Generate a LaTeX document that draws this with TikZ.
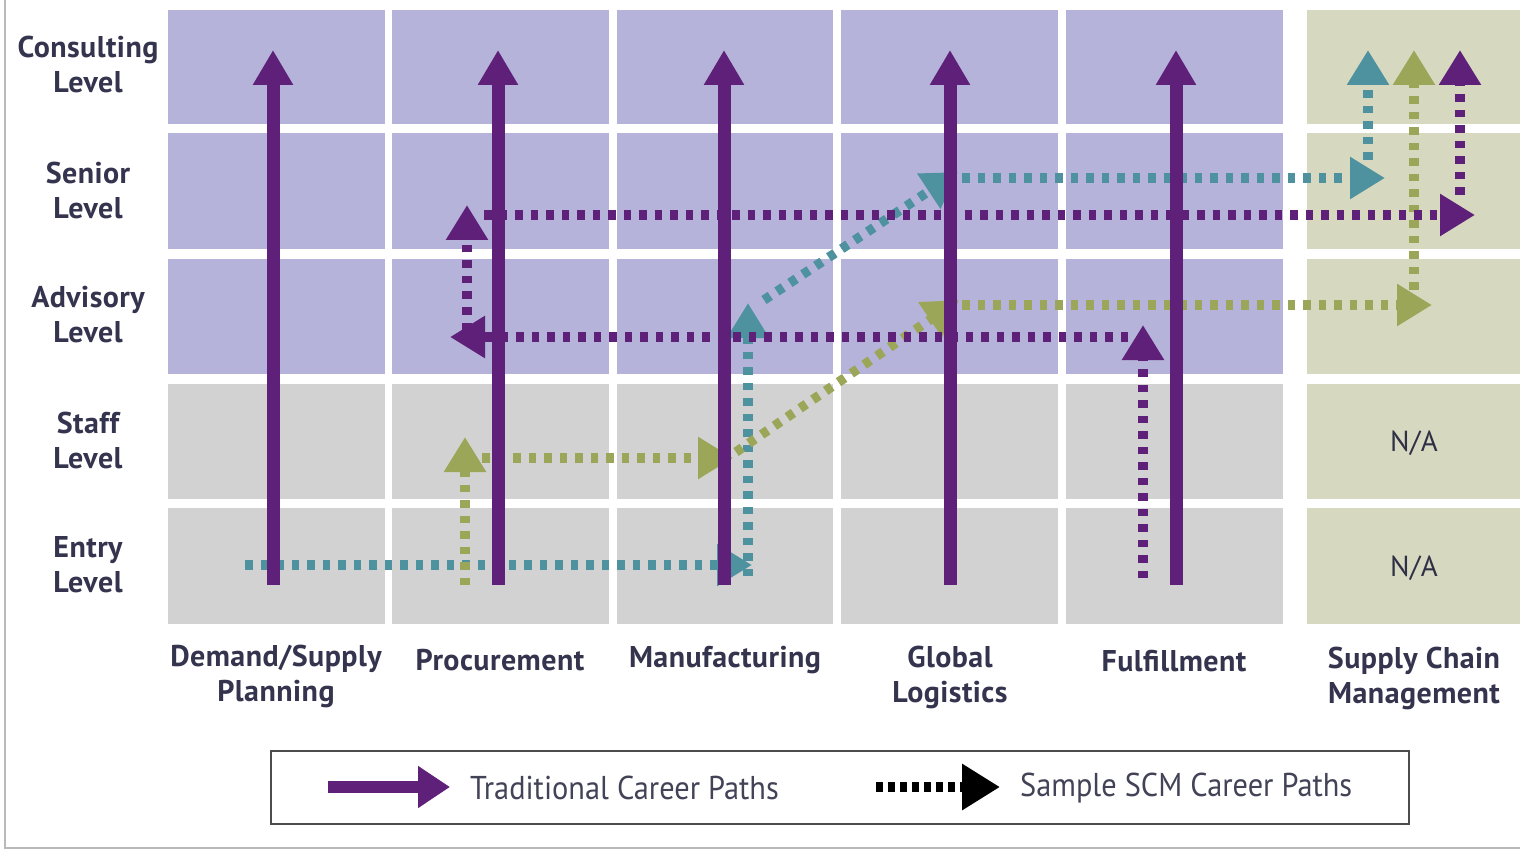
\documentclass[tikz,border=0pt]{standalone}
\usepackage{fontspec}
\setmainfont{PT Sans}
\newfontfamily\lblfont[LetterSpace=1.5]{PT Sans}
\newfontfamily\condfont[FakeStretch=0.92]{PT Sans}
\usetikzlibrary{arrows.meta}
\definecolor{lav}{HTML}{B5B3D9}
\definecolor{gry}{HTML}{D2D2D2}
\definecolor{grn}{HTML}{D6D9C0}
\definecolor{pur}{HTML}{5E2078}
\definecolor{teal}{HTML}{4E92A0}
\definecolor{olive}{HTML}{9CA658}
\definecolor{txt}{HTML}{34344E}
\begin{document}
\begin{tikzpicture}[x=1pt,y=-1pt,
  solidarr/.style={line width=13pt, draw=pur, -{Triangle[width=38pt,length=35pt]}},
  dotarr/.style={line width=9.5pt, dash pattern=on 7.5pt off 8pt, -{Triangle[width=40pt,length=35pt]}},
  lbl/.style={font=\lblfont\bfseries\fontsize{30}{35}\selectfont, text=txt, align=center, inner sep=0pt},
  natext/.style={font=\lblfont\fontsize{29}{32}\selectfont, text=txt!90!black, inner sep=0pt},
  legtext/.style={font=\condfont\fontsize{33}{36}\selectfont, text=txt!80!gray, anchor=west, inner sep=0pt},
]
\useasboundingbox (0,0) rectangle (1520,850);
\fill[white] (0,0) rectangle (1520,850);
\draw[gray!55, line width=1.5pt] (5,0) -- (5,848) -- (1520,848);

% grid cells
\foreach \xa/\xb in {168/385,392/609,617/833,841/1058,1066/1283}{
  \foreach \ya/\yb in {10/124,133/249,259/374}{
    \fill[lav] (\xa,\ya) rectangle (\xb,\yb);
  }
  \foreach \ya/\yb in {384/499,508/624}{
    \fill[gry] (\xa,\ya) rectangle (\xb,\yb);
  }
}
\foreach \ya/\yb in {10/124,133/249,259/374,384/499,508/624}{
  \fill[grn] (1307,\ya) rectangle (1520,\yb);
}

% row labels
\node[lbl] (lcons) at (88,65) {Consulting\\Level};
\node[lbl] (lsen)  at (88,191) {Senior\\Level};
\node[lbl] (ladv)  at (88,315) {Advisory\\Level};
\node[lbl] (lstaff) at (88,440) {Staff\\Level};
\node[lbl] (lentry) at (88,565) {Entry\\Level};

% column labels
\node[lbl] (cdsp) at (276,676) {Demand/Supply\\Planning};
\node[lbl] (cproc) at (500,660) {Procurement};
\node[lbl] (cman) at (725,660) {Manufacturing};
\node[lbl] (cgl) at (950,677) {Global\\Logistics};
\node[lbl] (cful) at (1174,661) {Fulfillment};
\node[lbl] (cscm) at (1414,678) {Supply Chain\\Management};

% N/A
\node[natext] (na1) at (1414,443) {N/A};
\node[natext] (na2) at (1414,568) {N/A};

% coordinates for dotted paths
% teal
\coordinate (t1) at (245,565);
\coordinate (t2) at (752,565);
\coordinate (t3) at (748,576);
\coordinate (t4) at (748,303);
\coordinate (t5) at (764,300);
\coordinate (t6) at (958,172);
\coordinate (t7) at (962,178);
\coordinate (t8) at (1385,178);
\coordinate (t9) at (1368,160);
\coordinate (t10) at (1368,50);
% olive
\coordinate (o1) at (465,585);
\coordinate (o2) at (465,437);
\coordinate (o3) at (482,458);
\coordinate (o4) at (733,458);
\coordinate (o5) at (736,452);
\coordinate (o6) at (959,300);
\coordinate (o7) at (962,305);
\coordinate (o8) at (1432,305);
\coordinate (o9) at (1414,290);
\coordinate (o10) at (1414,50);
% purple
\coordinate (p1) at (1143,578);
\coordinate (p2) at (1143,325);
\coordinate (p3) at (1128,337);
\coordinate (p4) at (450,337);
\coordinate (p5) at (467,330);
\coordinate (p6) at (467,205);
\coordinate (p7) at (484,215);
\coordinate (p8) at (1475,215);
\coordinate (p9) at (1460,195);
\coordinate (p10) at (1460,50);

\draw[dotarr, draw=teal] (t1) -- (t2);
\draw[dotarr, draw=teal] (t3) -- (t4);
\draw[dotarr, draw=teal] (t5) -- (t6);
\draw[dotarr, draw=teal] (t7) -- (t8);
\draw[dotarr, draw=teal] (t9) -- (t10);

\draw[dotarr, draw=olive] (o1) -- (o2);
\draw[dotarr, draw=olive] (o3) -- (o4);
\draw[dotarr, draw=olive] (o5) -- (o6);
\draw[dotarr, draw=olive] (o7) -- (o8);
\draw[dotarr, draw=olive] (o9) -- (o10);

\draw[dotarr, draw=pur] (p1) -- (p2);
\draw[dotarr, draw=pur] (p3) -- (p4);
\draw[dotarr, draw=pur] (p5) -- (p6);
\draw[dotarr, draw=pur] (p7) -- (p8);
\draw[dotarr, draw=pur] (p9) -- (p10);

% traditional solid arrows
\foreach \x/\n in {273/a,498/b,724/c,950/d,1176/e}{
  \coordinate (s\n0) at (\x,585);
  \coordinate (s\n1) at (\x,50);
  \draw[solidarr] (s\n0) -- (s\n1);
}

% legend
\node[draw=gray!60!black, line width=2pt, minimum width=1138pt, minimum height=73pt, anchor=north west, inner sep=0pt] (legend) at (270,750) {};
\coordinate (la0) at (328,787);
\coordinate (la1) at (450,787);
\draw[line width=12pt, draw=pur, -{Triangle[width=40pt,length=32pt]}] (la0) -- (la1);
\node[legtext] (lt1) at (470,788) {Traditional Career Paths};
\coordinate (lb0) at (876,787);
\coordinate (lb1) at (1000,787);
\draw[line width=10pt, draw=black, dash pattern=on 7pt off 5pt, -{Triangle[width=44pt,length=38pt]}] (lb0) -- (lb1);
\node[legtext] (lt2) at (1020,788) {Sample SCM Career Paths};
\end{tikzpicture}
\end{document}
